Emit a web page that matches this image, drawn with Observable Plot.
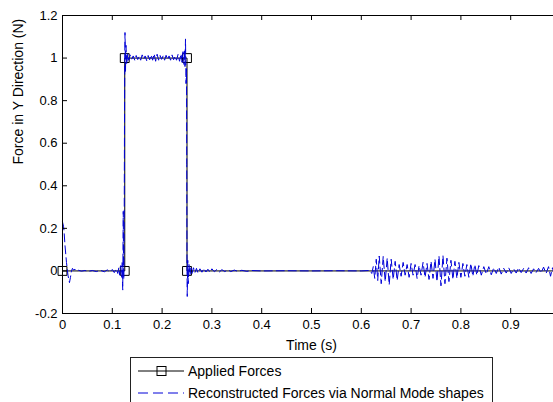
<!DOCTYPE html>
<html><head><meta charset="utf-8">
<script src="https://cdn.jsdelivr.net/npm/d3@7"></script>
<script src="https://cdn.jsdelivr.net/npm/@observablehq/plot@0.6"></script>
<style>
html,body{margin:0;padding:0;background:#fff;overflow:hidden;width:553px;height:402px;}
#wrap{position:relative;width:553px;height:402px;overflow:hidden;font-family:"Liberation Sans",Arial,sans-serif;}
#chart{position:absolute;left:0;top:0;width:600px;}
#chart svg{max-width:none !important;width:600px;height:357px;}
#legend{position:absolute;left:130px;top:357px;width:361px;height:60px;border:1px solid #222;background:#fff;}
.row{position:absolute;left:0;height:20px;display:flex;align-items:center;font-size:14px;color:#000;white-space:nowrap;}
.row svg{margin-left:7px;margin-right:4px;}
</style></head>
<body><div id="wrap"><div id="chart"></div>
<div id="legend">
<div class="row" style="top:3px"><svg width="46" height="12"><line x1="0" y1="6" x2="46" y2="6" stroke="#000"/><rect x="19" y="1.5" width="9" height="9" fill="none" stroke="#000"/></svg><span id="l1"></span></div>
<div class="row" style="top:25px"><svg width="46" height="12"><line x1="0" y1="6" x2="46" y2="6" stroke="#0000d8" stroke-dasharray="10,5"/></svg><span id="l2"></span></div>
</div></div>
<script>
const seriesNames = ["Applied Forces", "Reconstructed Forces via Normal Mode shapes"];
const xLabel = "Time (s)";
const yLabel = "Force in Y Direction (N)";
const xTicks = [0, 0.1, 0.2, 0.3, 0.4, 0.5, 0.6, 0.7, 0.8, 0.9, 1];
const xLabelTicks = [0, 0.1, 0.2, 0.3, 0.4, 0.5, 0.6, 0.7, 0.8, 0.9];
const xTickLabels = ["0", "0.1", "0.2", "0.3", "0.4", "0.5", "0.6", "0.7", "0.8", "0.9"];
const yTicks = [-0.2, 0, 0.2, 0.4, 0.6, 0.8, 1, 1.2];
const yTickLabels = ["-0.2", "0", "0.2", "0.4", "0.6", "0.8", "1", "1.2"];

const appliedTime = [0, 0.125, 0.125, 0.25, 0.25, 1];
const appliedForce = [0, 0, 1, 1, 0, 0];

const reconTime = [
0, 0.002, 0.003, 0.005, 0.008, 0.011, 0.014, 0.016, 0.018, 0.020, 0.022, 0.025, 0.028, 0.032, 0.038, 0.045, 0.052, 0.060, 0.068, 0.076,
0.084, 0.090, 0.095, 0.100, 0.104, 0.108, 0.111, 0.113, 0.115, 0.117, 0.119, 0.120, 0.1205, 0.121, 0.1215, 0.122, 0.1225, 0.123, 0.124, 0.1245,
0.125, 0.1255, 0.126, 0.1265, 0.127, 0.1275, 0.129, 0.131, 0.133, 0.136, 0.139, 0.142, 0.145, 0.148, 0.151, 0.154, 0.157, 0.160, 0.163, 0.166,
0.169, 0.172, 0.175, 0.178, 0.181, 0.184, 0.187, 0.190, 0.193, 0.196, 0.199, 0.202, 0.205, 0.208, 0.211, 0.214, 0.217, 0.220, 0.223, 0.226,
0.229, 0.232, 0.235, 0.238, 0.240, 0.242, 0.244, 0.245, 0.246, 0.247, 0.248, 0.249, 0.2495, 0.250, 0.2505, 0.2515, 0.2525, 0.254, 0.256, 0.258,
0.260, 0.263, 0.266, 0.269, 0.272, 0.276, 0.280, 0.284, 0.288, 0.292, 0.296, 0.300, 0.305, 0.310, 0.315, 0.320, 0.326, 0.332, 0.338, 0.345,
0.352, 0.360, 0.370, 0.380, 0.400, 0.450, 0.500, 0.550, 0.600, 0.615, 0.618, 0.621, 0.624, 0.627, 0.630, 0.633, 0.636, 0.640, 0.644, 0.648,
0.652, 0.656, 0.660, 0.664, 0.668, 0.672, 0.676, 0.680, 0.684, 0.688, 0.692, 0.696, 0.700, 0.704, 0.708, 0.712, 0.716, 0.720, 0.724, 0.728,
0.732, 0.736, 0.740, 0.744, 0.748, 0.752, 0.756, 0.760, 0.764, 0.768, 0.772, 0.776, 0.780, 0.784, 0.788, 0.792, 0.796, 0.800, 0.804, 0.808,
0.812, 0.816, 0.820, 0.824, 0.828, 0.832, 0.836, 0.841, 0.846, 0.851, 0.856, 0.861, 0.866, 0.871, 0.876, 0.881, 0.886, 0.891, 0.896, 0.901,
0.906, 0.911, 0.916, 0.921, 0.926, 0.931, 0.936, 0.941, 0.946, 0.951, 0.956, 0.961, 0.966, 0.971, 0.976, 0.980, 0.984, 0.988, 0.992, 0.996, 1.0
];
const reconForce = [
0.23, 0.21, 0.19, 0.12, 0.04, -0.02, -0.055, -0.03, 0.0, 0.012, 0.004, 0.008, -0.002, 0.003, -0.001, 0.002, -0.002, 0.002, -0.003, 0.003,
-0.004, 0.005, -0.005, 0.007, -0.008, 0.01, -0.012, 0.015, -0.02, 0.025, -0.03, 0.04, -0.06, -0.09, 0.1, 0.28, 0.05, -0.04, 0.3, 0.7,
1.0, 1.12, 1.05, 0.93, 1.03, 1.06, 0.97, 1.02, 0.99, 1.015, 0.995, 1.01, 0.99, 1.012, 0.993, 1.008, 0.99, 1.015, 0.995, 1.01,
0.988, 1.012, 0.992, 1.015, 0.99, 1.02, 0.985, 1.018, 0.99, 1.012, 0.994, 1.01, 0.99, 1.013, 0.993, 1.01, 0.99, 1.015, 0.992, 1.01,
0.99, 1.017, 0.985, 1.02, 0.98, 1.03, 0.97, 1.04, 0.96, 1.09, 0.88, 0.95, 0.5, 0.02, -0.12, 0.05, -0.06, 0.03, -0.02, 0.015,
-0.012, 0.015, -0.008, 0.012, -0.01, 0.01, -0.006, 0.012, -0.005, 0.008, -0.006, 0.01, -0.004, 0.007, -0.005, 0.006, -0.003, 0.005, -0.003, 0.004,
-0.002, 0.003, -0.002, 0.002, 0.0, 0.001, 0.0, 0.001, 0.0, 0.002, 0.0, -0.012, 0.02, -0.035, 0.055, -0.045, 0.07, -0.06, 0.068, -0.05,
0.06, -0.065, 0.055, -0.04, 0.045, -0.045, 0.03, -0.025, 0.04, -0.02, 0.03, -0.03, 0.035, -0.02, 0.03, -0.035, 0.025, -0.02, 0.04, -0.03,
0.035, -0.04, 0.045, -0.035, 0.055, -0.05, 0.07, -0.07, 0.072, -0.06, 0.06, -0.05, 0.05, -0.04, 0.045, -0.035, 0.04, -0.03, 0.035, -0.025,
0.03, -0.03, 0.035, -0.025, 0.03, -0.02, 0.025, -0.02, 0.02, -0.015, 0.02, -0.018, 0.015, -0.012, 0.018, -0.015, 0.012, -0.01, 0.015, -0.012,
0.01, -0.01, 0.015, -0.008, 0.012, -0.01, 0.015, -0.012, 0.01, -0.008, 0.012, -0.01, 0.018, -0.012, 0.02, -0.025, 0.015, -0.03, 0.02, -0.01, 0.005
];

const applied = appliedTime.map((t, i) => ({t, f: appliedForce[i]}));
const recon = reconTime.map((t, i) => ({t, f: reconForce[i]}));

document.getElementById("l1").textContent = seriesNames[0];
document.getElementById("l2").textContent = seriesNames[1];

const W = 600, H = 357, ML = 62, MR = 40, MT = 15, MB = 44;
const pw = W - ML - MR, ph = H - MT - MB;

const chart = Plot.plot({
  width: W, height: H,
  marginLeft: ML, marginRight: MR, marginTop: MT, marginBottom: MB,
  style: {fontFamily: "'Liberation Sans', Arial, sans-serif", fontSize: "13px", color: "#000", background: "transparent", overflow: "visible", maxWidth: "none"},
  x: {domain: [0, 1]},
  y: {domain: [-0.2, 1.2]},
  marks: [
    Plot.line(applied, {x: "t", y: "f", stroke: "#000", strokeWidth: 1}),
    Plot.dot(applied, {x: "t", y: "f", symbol: "square", r: 5, stroke: "#000", fill: "none", strokeWidth: 1}),
    Plot.line(recon, {x: "t", y: "f", stroke: "#0000d8", strokeWidth: 1, strokeDasharray: "8,4"}),
    Plot.frame({stroke: "#000", strokeWidth: 1}),
    Plot.tickX(xTicks, {x: d => d, insetTop: ph - 5, stroke: "#000"}),
    Plot.tickX(xTicks, {x: d => d, insetBottom: ph - 5, stroke: "#000"}),
    Plot.tickY(yTicks, {y: d => d, insetRight: pw - 5, stroke: "#000"}),
    Plot.tickY(yTicks, {y: d => d, insetLeft: pw - 5, stroke: "#000"}),
    Plot.axisX(xLabelTicks, {tickSize: 0, tickPadding: 6, tickFormat: (d, i) => xTickLabels[i], label: null, fontSize: 13}),
    Plot.axisY(yTicks, {tickSize: 0, tickPadding: 5, tickFormat: (d, i) => yTickLabels[i], label: null, fontSize: 13}),
    Plot.text([xLabel], {text: d => d, frameAnchor: "bottom", dy: 36, fontSize: 14, fill: "#000"}),
    Plot.text([yLabel], {text: d => d, frameAnchor: "left", rotate: -90, dx: -44, fontSize: 14, fill: "#000"})
  ]
});
document.getElementById("chart").appendChild(chart);
</script></body></html>
